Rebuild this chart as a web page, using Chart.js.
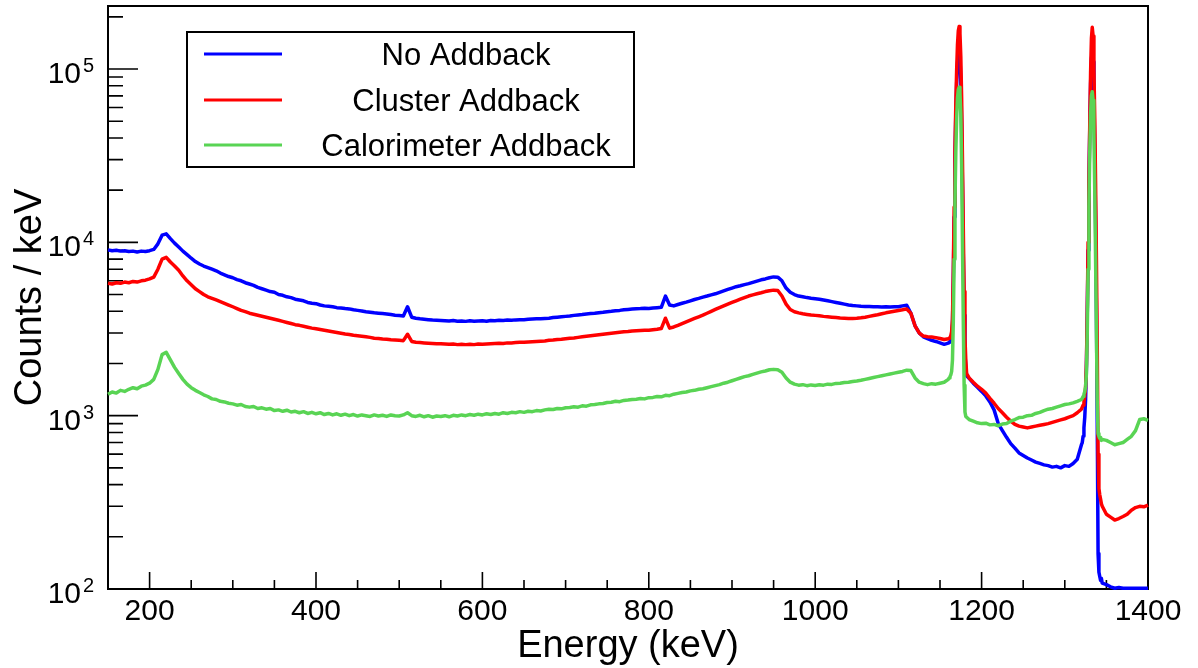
<!DOCTYPE html>
<html>
<head>
<meta charset="utf-8">
<title>Co-60 spectrum, addback comparison</title>
<script src="https://cdn.jsdelivr.net/npm/chart.js@4.4.1/dist/chart.umd.min.js"></script>
<style>
  html, body { margin: 0; padding: 0; background: #fff; }
  #wrap { width: 1198px; height: 668px; }
</style>
</head>
<body>
<div id="wrap"><canvas id="spectrum"></canvas></div>
<script>
// bin centres in keV: 5 keV steps, 1 keV around the two photopeaks
const energies = [
  150, 155, 160, 165, 170, 175, 180, 185, 190, 195,
  200, 205, 210, 215, 220, 225, 230, 235, 240, 245,
  250, 255, 260, 265, 270, 275, 280, 285, 290, 295,
  300, 305, 310, 315, 320, 325, 330, 335, 340, 345,
  350, 355, 360, 365, 370, 375, 380, 385, 390, 395,
  400, 405, 410, 415, 420, 425, 430, 435, 440, 445,
  450, 455, 460, 465, 470, 475, 480, 485, 490, 495,
  500, 505, 510, 515, 520, 525, 530, 535, 540, 545,
  550, 555, 560, 565, 570, 575, 580, 585, 590, 595,
  600, 605, 610, 615, 620, 625, 630, 635, 640, 645,
  650, 655, 660, 665, 670, 675, 680, 685, 690, 695,
  700, 705, 710, 715, 720, 725, 730, 735, 740, 745,
  750, 755, 760, 765, 770, 775, 780, 785, 790, 795,
  800, 805, 810, 815, 820, 825, 830, 835, 840, 845,
  850, 855, 860, 865, 870, 875, 880, 885, 890, 895,
  900, 905, 910, 915, 920, 925, 930, 935, 940, 945,
  950, 955, 960, 965, 970, 975, 980, 985, 990, 995,
  1000, 1005, 1010, 1015, 1020, 1025, 1030, 1035, 1040, 1045,
  1050, 1055, 1060, 1065, 1070, 1075, 1080, 1085, 1090, 1095,
  1100, 1105, 1110, 1115, 1120, 1125, 1130, 1135, 1140, 1145,
  1150, 1155, 1160,
  1161, 1162, 1163, 1164, 1165, 1166, 1167, 1168, 1169, 1170, 1171,
  1172, 1173, 1174, 1175, 1176, 1177, 1178, 1179, 1180, 1181, 1182,
  1185, 1190, 1195, 1200, 1205, 1210, 1215, 1220, 1225, 1230,
  1235, 1240, 1245, 1250, 1255, 1260, 1265, 1270, 1275, 1280,
  1285, 1290, 1295, 1300, 1305, 1310, 1315, 1320,
  1321, 1322, 1323, 1324, 1325, 1326, 1327, 1328, 1329, 1330, 1331, 1332, 1333,
  1334, 1335, 1336, 1337, 1338, 1339, 1340, 1341, 1342, 1343, 1344, 1345,
  1350, 1355, 1360, 1365, 1370, 1375, 1380, 1385, 1390, 1395, 1400
];

const noAddback = [
  9050, 8950, 9000, 8900, 8950, 8850, 8900, 8800, 8900, 8850,
  8950, 9100, 9800, 11000, 11200, 10500, 9900, 9400, 8900, 8500,
  8100, 7750, 7500, 7300, 7150, 7000, 6850, 6650, 6500, 6350,
  6250, 6100, 6000, 5850, 5750, 5650, 5500, 5400, 5300, 5200,
  5150, 5000, 4950, 4850, 4800, 4700, 4650, 4600, 4500, 4450,
  4430, 4350, 4300, 4280, 4250, 4200, 4180, 4150, 4130, 4080,
  4050, 4020, 3980, 3950, 3920, 3900, 3880, 3860, 3830, 3800,
  3780, 3760, 4250, 3700, 3650, 3620, 3600, 3580, 3560, 3550,
  3540, 3530, 3520, 3540, 3510, 3520, 3500, 3530, 3510, 3520,
  3530, 3510, 3540, 3530, 3550, 3540, 3560, 3550, 3570, 3580,
  3580, 3600, 3610, 3620, 3630, 3640, 3650, 3680, 3700, 3720,
  3740, 3760, 3790, 3810, 3830, 3860, 3880, 3900, 3930, 3950,
  3980, 4000, 4030, 4050, 4080, 4100, 4120, 4140, 4150, 4170,
  4150, 4180, 4200, 4220, 4900, 4350, 4300, 4380, 4450, 4520,
  4600, 4680, 4750, 4830, 4900, 4980, 5050, 5150, 5250, 5350,
  5450, 5550, 5620, 5700, 5780, 5880, 5980, 6080, 6150, 6250,
  6320, 6300, 6000, 5450, 5150, 5000, 4900, 4850, 4800, 4760,
  4730, 4700, 4650, 4600, 4550, 4500, 4450, 4400, 4350, 4320,
  4300, 4280, 4270, 4260, 4250, 4250, 4240, 4250, 4240, 4250,
  4250, 4300, 4330, 3900, 3300, 3000, 2850, 2780, 2720, 2680,
  2630, 2580, 2620,
  2650, 2680, 2750, 2900, 3400, 6000, 14000, 30000, 55000, 82000, 108000,
  125000, 130000, 118000, 85000, 48000, 21000, 8500, 3800, 2300, 1900, 1700,
  1640, 1540, 1460, 1380, 1300, 1200, 1080, 900, 820, 750,
  690, 650, 610, 590, 570, 555, 540, 530, 520, 515,
  505, 510, 500, 515, 510, 530, 560, 680,
  700, 760, 850, 980, 1250, 1900, 3800, 9000, 21000, 45000, 82000, 115000, 126000,
  110000, 70000, 34000, 13000, 4000, 900, 160, 125, 118, 112, 115, 108,
  106, 103, 101, 102, 101, 101, 101, 101, 101, 101, 101
];

const clusterAddback = [
  5800, 5750, 5850, 5800, 5900, 5850, 5950, 5900, 6000, 6050,
  6150, 6300, 7000, 8000, 8200, 7700, 7300, 6900, 6400, 6000,
  5700, 5400, 5200, 5000, 4850, 4750, 4650, 4550, 4450, 4350,
  4250, 4150, 4050, 3980, 3900, 3850, 3800, 3750, 3700, 3650,
  3600, 3550, 3500, 3450, 3400, 3350, 3320, 3280, 3240, 3200,
  3170, 3140, 3110, 3080, 3050, 3020, 2990, 2960, 2940, 2910,
  2890, 2870, 2850, 2830, 2800, 2790, 2770, 2760, 2740, 2730,
  2720, 2710, 2950, 2680, 2650, 2640, 2630, 2620, 2610, 2600,
  2600, 2590, 2580, 2590, 2570, 2580, 2570, 2580, 2570, 2590,
  2580, 2590, 2600, 2610, 2620, 2610, 2630, 2630, 2640, 2650,
  2650, 2660, 2670, 2680, 2690, 2700, 2720, 2730, 2750, 2760,
  2780, 2800, 2810, 2830, 2850, 2870, 2890, 2910, 2930, 2950,
  2970, 2990, 3010, 3030, 3050, 3060, 3080, 3090, 3100, 3110,
  3110, 3130, 3150, 3180, 3650, 3200, 3250, 3320, 3400, 3480,
  3560, 3640, 3720, 3800, 3900, 4000, 4100, 4200, 4300, 4400,
  4500, 4600, 4700, 4800, 4900, 4980, 5050, 5120, 5200, 5260,
  5300, 5280, 4900, 4400, 4100, 3980, 3920, 3870, 3840, 3810,
  3790, 3770, 3740, 3720, 3700, 3680, 3660, 3650, 3640, 3640,
  3650, 3670, 3700, 3740, 3780, 3820, 3870, 3920, 3960, 4000,
  4040, 4080, 4130, 3900, 3300, 3000, 2880, 2850, 2840, 2820,
  2790, 2750, 2780,
  2800, 2820, 2900, 3050, 3600, 6800, 16000, 34000, 62000, 98000, 138000,
  166000, 176000, 160000, 118000, 68000, 30000, 12000, 5200, 2800, 2100, 1750,
  1650, 1560, 1480, 1420, 1350, 1260, 1180, 1100, 1040, 980,
  930, 890, 870, 860, 850, 860, 870, 880, 890, 900,
  915, 930, 945, 960, 980, 1000, 1040, 1090,
  1120, 1150, 1200, 1300, 1450, 2000, 4000, 10000, 22000, 48000, 95000, 150000, 174000,
  155000, 100000, 52000, 22000, 8000, 2500, 600, 380, 350, 330, 310, 300,
  270, 260, 250, 255, 262, 270, 285, 295, 300, 298, 305
];

const calorimeterAddback = [
  1330, 1370, 1350, 1400, 1380, 1420, 1450, 1430, 1480, 1500,
  1540, 1620, 1850, 2250, 2320, 2100, 1900, 1750, 1620, 1520,
  1450, 1400, 1360, 1320, 1290, 1250, 1240, 1210, 1200, 1180,
  1170, 1150, 1160, 1130, 1120, 1130, 1100, 1110, 1090, 1100,
  1070, 1080, 1060, 1075, 1050, 1060, 1040, 1055, 1030, 1045,
  1025, 1040, 1015, 1030, 1010, 1025, 1005, 1020, 1000, 1015,
  995, 1010, 1000, 990, 1010, 995, 1005, 990, 1010, 1000,
  995, 1010, 1040, 1000, 990, 1005, 985, 1000, 980, 995,
  990, 1000, 985, 1005, 995, 1010, 1000, 1015, 1005, 1020,
  1010, 1025, 1015, 1030, 1020, 1040, 1030, 1045, 1040, 1055,
  1045, 1060, 1055, 1070, 1065, 1080, 1090, 1085, 1100, 1095,
  1110, 1115, 1125, 1120, 1140, 1135, 1155, 1160, 1170, 1175,
  1190, 1195, 1210, 1205, 1225, 1230, 1240, 1245, 1255, 1250,
  1270, 1275, 1290, 1285, 1310, 1305, 1330, 1345, 1360, 1370,
  1390, 1400, 1420, 1430, 1450, 1470, 1490, 1510, 1540, 1560,
  1590, 1620, 1650, 1680, 1700, 1730, 1760, 1790, 1810, 1840,
  1850, 1840, 1780, 1650, 1560, 1520, 1500, 1510, 1490, 1505,
  1495, 1510, 1500, 1520, 1515, 1535, 1540, 1555, 1560, 1575,
  1585, 1600, 1620, 1640, 1660, 1680, 1700, 1720, 1740, 1760,
  1780, 1800, 1830, 1820, 1650, 1560, 1530, 1510, 1530, 1520,
  1540, 1560, 1620,
  1650, 1680, 1720, 1800, 2100, 3500, 8000, 17000, 33000, 52000, 68000,
  76000, 78500, 73000, 55000, 28000, 10000, 3500, 1500, 1050, 990, 980,
  950, 930, 910, 900, 905, 885, 890, 875, 895, 900,
  930, 950, 975, 980, 1000, 1005, 1030, 1045, 1070, 1090,
  1100, 1120, 1140, 1160, 1170, 1185, 1210, 1240,
  1260, 1290, 1330, 1380, 1480, 1750, 3000, 7000, 16000, 33000, 55000, 70000, 74000,
  66000, 42000, 20000, 8000, 3000, 1200, 790, 760, 740, 750, 720, 730,
  720, 700, 680, 690, 700, 730, 760, 820, 950, 960, 940
];

const seriesNames = ['No Addback', 'Cluster Addback', 'Calorimeter Addback'];
const seriesColors = ['rgb(0,0,255)', 'rgb(255,0,0)', 'rgb(89,212,84)'];
const xTickLabels = [200, 400, 600, 800, 1000, 1200, 1400];
const yDecades = [2, 3, 4, 5];

[noAddback, clusterAddback, calorimeterAddback].forEach((s, i) => {
  if (s.length !== energies.length) throw new Error(seriesNames[i] + ': ' + s.length + ' vs ' + energies.length);
});

const FONT = '"Liberation Sans", Arial, Helvetica, sans-serif';
const toPoints = vals => energies.map((e, i) => ({ x: e, y: vals[i] }));

// ROOT-like frame: box, inward ticks, 10^n labels, titles
const frameAxes = {
  id: 'frameAxes',
  beforeDatasetsDraw(chart) {
    const { ctx, chartArea: a, scales: { x, y } } = chart;
    ctx.save();
    ctx.strokeStyle = '#000';
    ctx.lineWidth = 2;
    ctx.strokeRect(a.left, a.top, a.right - a.left, a.bottom - a.top);

    ctx.lineWidth = 1.6;
    ctx.beginPath();
    for (let e = 200; e < x.max; e += 50) {
      const px = x.getPixelForValue(e);
      const len = e % 200 === 0 ? 17 : 9;
      ctx.moveTo(px, a.bottom);
      ctx.lineTo(px, a.bottom - len);
    }
    for (const d of yDecades) {
      for (let m = 1; m <= 9; m++) {
        const v = m * Math.pow(10, d);
        if (v > y.max) break;
        const py = y.getPixelForValue(v);
        ctx.moveTo(a.left, py);
        ctx.lineTo(a.left + (m === 1 ? 30 : 15), py);
      }
    }
    ctx.stroke();

    ctx.fillStyle = '#000';
    ctx.font = '30px ' + FONT;
    ctx.textAlign = 'center';
    ctx.textBaseline = 'alphabetic';
    for (const v of xTickLabels) {
      ctx.fillText(String(v), x.getPixelForValue(v), a.bottom + 31);
    }
    for (const d of yDecades) {
      const py = y.getPixelForValue(Math.pow(10, d));
      ctx.font = '30px ' + FONT;
      ctx.textAlign = 'right';
      ctx.fillText('10', a.left - 27, py + 14);
      ctx.font = '20px ' + FONT;
      ctx.textAlign = 'left';
      ctx.fillText(String(d), a.left - 25, py + 3);
    }

    ctx.font = '38px ' + FONT;
    ctx.textAlign = 'center';
    ctx.fillText('Energy (keV)', (a.left + a.right) / 2, a.bottom + 68);
    ctx.translate(41, (a.top + a.bottom) / 2);
    ctx.rotate(-Math.PI / 2);
    ctx.fillText('Counts / keV', 0, 0);
    ctx.restore();
  },
  afterDraw(chart) {
    const { ctx } = chart;
    const box = { left: 187, top: 32, right: 634, bottom: 167 };
    const rows = [54, 100, 145];
    ctx.save();
    ctx.fillStyle = '#fff';
    ctx.fillRect(box.left, box.top, box.right - box.left, box.bottom - box.top);
    ctx.strokeStyle = '#000';
    ctx.lineWidth = 2;
    ctx.strokeRect(box.left, box.top, box.right - box.left, box.bottom - box.top);
    ctx.font = '31px ' + FONT;
    ctx.textAlign = 'center';
    ctx.textBaseline = 'alphabetic';
    chart.data.datasets.forEach((ds, i) => {
      ctx.strokeStyle = ds.borderColor;
      ctx.lineWidth = 3;
      ctx.beginPath();
      ctx.moveTo(204, rows[i]);
      ctx.lineTo(282, rows[i]);
      ctx.stroke();
      ctx.fillStyle = '#000';
      ctx.fillText(ds.label, 466, rows[i] + 11);
    });
    ctx.restore();
  }
};

const ctx = document.getElementById('spectrum').getContext('2d');

new Chart(ctx, {
  type: 'line',
  data: {
    datasets: [
      { label: seriesNames[0], data: toPoints(noAddback), borderColor: seriesColors[0], order: 3 },
      { label: seriesNames[1], data: toPoints(clusterAddback), borderColor: seriesColors[1], order: 2 },
      { label: seriesNames[2], data: toPoints(calorimeterAddback), borderColor: seriesColors[2], order: 1 }
    ]
  },
  options: {
    responsive: true,
    maintainAspectRatio: false,
    devicePixelRatio: 1,
    animation: false,
    layout: { padding: { left: 0, right: 50, top: 6, bottom: 0 } },
    elements: {
      point: { radius: 0 },
      line: { borderWidth: 3.5, tension: 0, fill: false, borderJoinStyle: 'round' }
    },
    datasets: { line: { clip: false } },
    scales: {
      x: {
        type: 'linear',
        min: 150,
        max: 1400,
        grid: { display: false },
        border: { display: false },
        ticks: { display: false },
        afterFit(s) { s.height = 79; }
      },
      y: {
        type: 'logarithmic',
        min: 100,
        max: 231000,
        grid: { display: false },
        border: { display: false },
        ticks: { display: false },
        afterFit(s) { s.width = 108; }
      }
    },
    plugins: {
      legend: { display: false },
      tooltip: { enabled: false }
    }
  },
  plugins: [frameAxes]
});
</script>
</body>
</html>
